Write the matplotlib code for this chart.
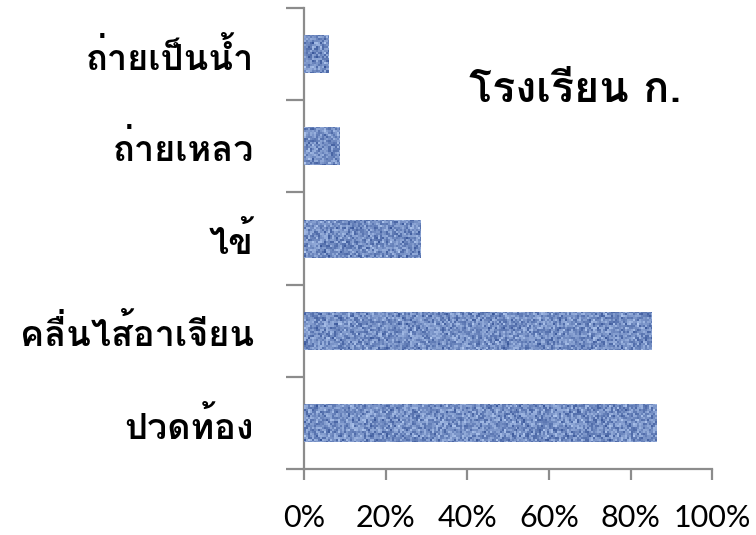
import numpy as np
import matplotlib
matplotlib.use("Agg")
import matplotlib.pyplot as plt
from matplotlib.ticker import FixedLocator, PercentFormatter

# Symptoms reported at the school (share of students)
symptoms = ["ปวดท้อง", "คลื่นไส้อาเจียน", "ไข้", "ถ่ายเหลว", "ถ่ายเป็นน้ำ"]
shares = [0.863, 0.851, 0.286, 0.086, 0.061]
title = "โรงเรียน ก."
xticks = [0, 0.2, 0.4, 0.6, 0.8, 1.0]

thai = ["Loma", "DejaVu Sans"]


def cloth_texture(h, w):
    """Blue woven-looking fill built from a simple hash of texel coordinates."""
    yy, xx = np.mgrid[0:h, 0:w].astype(float)
    noise = np.abs(np.modf(np.sin(xx * 12.9898 + yy * 78.233) * 43758.5453)[0])
    weave = 0.5 + 0.35 * np.cos(xx * 1.6) * np.cos(yy * 1.3)
    v = np.clip(0.55 * noise + 0.45 * weave, 0, 1)
    dark = np.array([45, 75, 145]) / 255
    light = np.array([190, 212, 248]) / 255
    return dark[None, None, :] * (1 - v[..., None]) + light[None, None, :] * v[..., None]


fig = plt.figure(figsize=(7.56, 5.35), dpi=100)
ax = fig.add_axes([0.402, 0.123, 0.54, 0.862])

ypos = np.arange(len(symptoms))
bars = ax.barh(ypos, shares, height=0.41, color="#5f82c4", edgecolor="none", zorder=2)

ax.set_xlim(0, 1)
ax.set_ylim(-0.5, len(symptoms) - 0.5)

# coarse texels (~2 px each) give the cloth look
tex = cloth_texture(230, 205)
for b in bars:
    im = ax.imshow(tex, extent=[0, 1, -0.5, len(symptoms) - 0.5], aspect="auto",
                   interpolation="nearest", zorder=3)
    im.set_clip_path(b)

for side in ("top", "right"):
    ax.spines[side].set_visible(False)
for side in ("left", "bottom"):
    ax.spines[side].set_color("#8c8c8c")
    ax.spines[side].set_linewidth(1.6)

# y: labels centred on bars, tick marks on category boundaries
ax.set_yticks(ypos)
ax.set_yticklabels(symptoms, family=thai, fontweight="bold", fontsize=26)
ax.tick_params(axis="y", which="major", length=0, pad=36)
ax.yaxis.set_minor_locator(FixedLocator(np.arange(-0.5, len(symptoms), 1.0)))
ax.tick_params(axis="y", which="minor", length=13, width=1.6, color="#8c8c8c")

ax.set_xticks(xticks)
ax.xaxis.set_major_formatter(PercentFormatter(1.0, decimals=0))
ax.tick_params(axis="x", length=8, width=1.6, color="#8c8c8c", pad=17, labelsize=22)
for lbl in ax.get_xticklabels():
    lbl.set_family("Lato")

ax.text(0.405, 3.61, title, family=thai, fontweight="bold", fontsize=31,
        ha="left", va="center")

fig.savefig("out.png")
